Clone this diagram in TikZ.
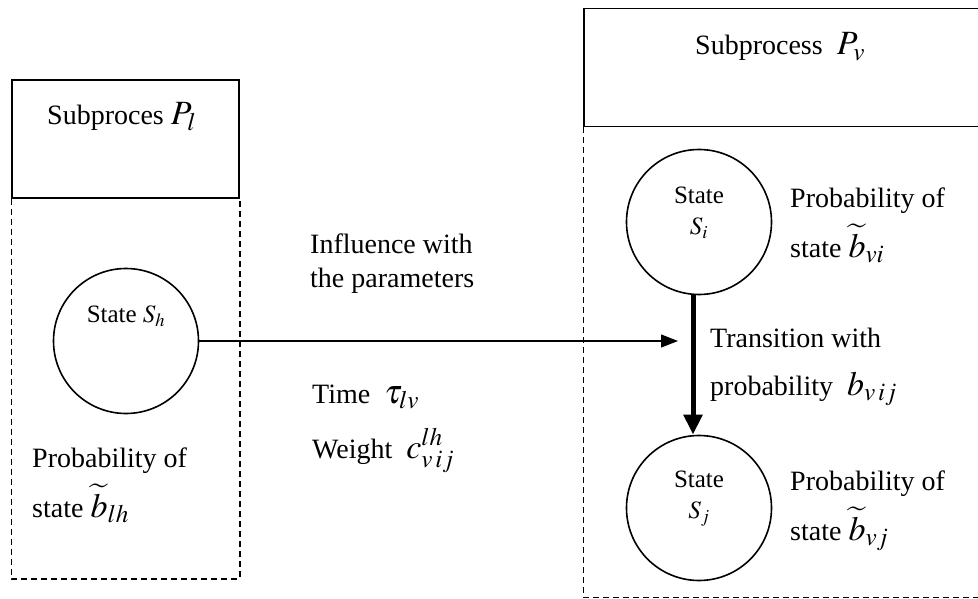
\documentclass[tikz,border=0pt]{standalone}
\usepackage{mathptmx}
\usepackage[no-math]{fontspec}
\setmainfont{Liberation Serif}
\usetikzlibrary{positioning,arrows.meta}
\newcommand{\mv}[1]{{\fontsize{34}{34}\selectfont$#1$}}

\begin{document}
\begin{tikzpicture}[x=1pt,y=-1pt,
    head/.style={draw, line width=1.6pt, minimum height=118pt, inner sep=0pt},
    circ/.style={draw, circle, line width=1.6pt, minimum size=145pt, inner sep=0pt},
    txt/.style={align=left, inner sep=0pt, anchor=base west, font=\fontsize{28}{#1}\selectfont},
    txt/.default=50,
    small/.style={align=center, inner sep=0pt, font=\fontsize{25}{31}\selectfont},
    brk/.style={dash pattern=on 6pt off 4pt, line width=1.4pt}]

  \useasboundingbox (0,0) rectangle (978,599);
  \clip (0,0) rectangle (978,599);

  % subprocess headers
  \node[head, minimum width=227pt] (Pl) at (125.5,139) {};
  \node[head, minimum width=420pt] (Pv) at (794,67.5) {};
  \node[txt] (PlLbl) at (47,125) {Subproces \mv{P_l}};
  \node[txt] (PvLbl) at (695,55) {Subprocess\ \ \mv{P_v}};
  \draw[brk] (Pl.south west) -- ++(0,380) -| (Pl.south east);
  \draw[brk] (Pv.south west) -- ++(0,470) -- ++(420,0);

  % states
  \node[circ] (Sh) at (126,341) {};
  \node[circ] (Si) at (699,222) {};
  \node[circ] (Sj) at (699,508) {};
  \node[small, anchor=base] (ShLbl) at ([yshift=19pt]Sh.center) {State $S_h$};
  \node[small] (SiLbl) at ([yshift=9pt]Si.center) {State\\$S_i$};
  \node[small] (SjLbl) at ([yshift=9pt]Sj.center) {State\\$S_j$};

  % connectors
  \coordinate (hit) at (678,341);
  \draw[line width=1.3pt, -{Triangle[length=17pt,width=13pt]}] (Sh.east) -- (hit);
  \draw[line width=5pt, -{Triangle[length=20pt,width=18pt]}] ([xshift=-6pt]Si.south) -- ([xshift=-6pt]Sj.north);

  % labels
  \node[txt] (probLh) at (32,517) {Probability of\\state \mv{\widetilde{b}_{lh}}};
  \node[txt=34] (infl) at (310,287) {Influence with\\the parameters};
  \node[txt=55] (param) at (312,458) {Time\ \ \mv{\tau_{lv}}\\Weight\ \ \mv{c^{lh}_{v\,ij}}};
  \node[txt] (probVi) at (790,257) {Probability of\\state \mv{\widetilde{b}_{vi}}};
  \node[txt=48] (trans) at (710,395) {Transition with\\probability\ \ \mv{b_{v\,ij}}};
  \node[txt] (probVj) at (790,540) {Probability of\\state \mv{\widetilde{b}_{vj}}};
\end{tikzpicture}
\end{document}
